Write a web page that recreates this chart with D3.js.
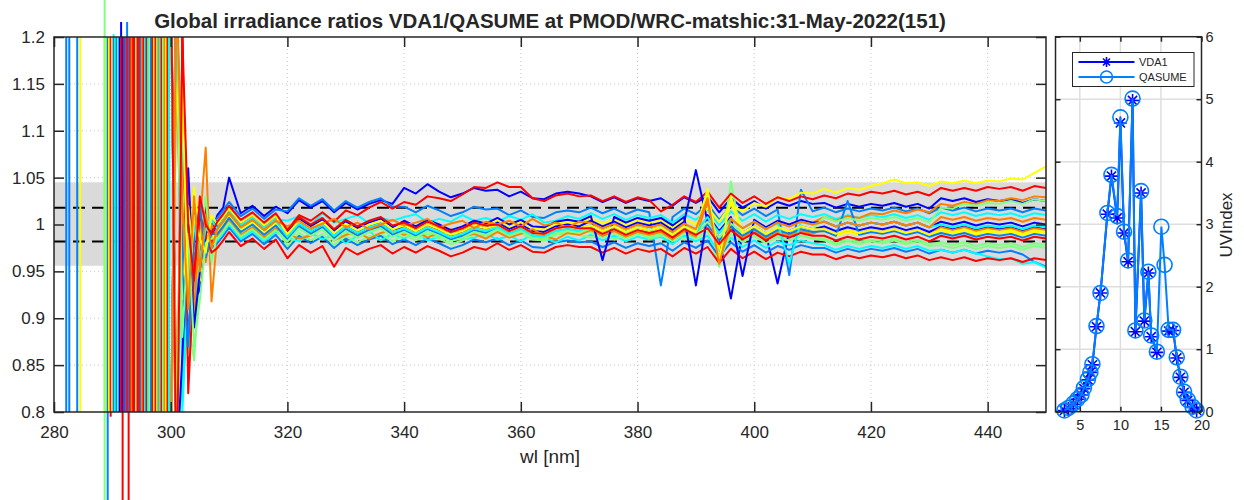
<!DOCTYPE html>
<html>
<head>
<meta charset="utf-8">
<script src="https://cdn.jsdelivr.net/npm/d3@7"></script>
<style>
  body { margin: 0; background: #ffffff; }
  svg text { font-family: "Liberation Sans", Arial, Helvetica, sans-serif; fill: #262626; }
</style>
</head>
<body>
<svg id="chart" width="1244" height="500"></svg>
<script>
// ---------------- data ----------------
const titleText = "Global irradiance ratios VDA1/QASUME at PMOD/WRC-matshic:31-May-2022(151)";

// wavelength grid [nm]
const wavelengths = [300,301,302,303,304,305,306,307,308,309,310,312,314,316,318,320,322,324,326,328,330,332,334,336,338,340,342,344,346,348,350,352,354,356,358,360,362,364,366,368,370,372,374,376,378,380,382,384,386,388,390,392,394,396,398,400,402,404,406,408,410,412,414,416,418,420,422,424,426,428,430,432,434,436,438,440,442,444,446,448,450];

// jet(7) line colours, cycled through the scans
const lineColors = ["#0000ff", "#0080ff", "#00ffff", "#80ff80", "#ffff00", "#ff8000", "#ff0000"];

// irradiance ratio VDA1/QASUME, one array per scan (same order as the UV-index time series)
const ratioSeries = [
  [1.30,0.72,1.10,0.93,1.02,0.97,1.01,0.99, 1.010,1.018,1.050, 1.012,1.020,1.009,1.019, 1.012,1.026,1.018,1.025,1.013,1.023,1.016,1.022,1.026,1.022, 1.039,1.033,1.043,1.035,1.029,1.033,1.039,1.036, 1.037,1.030,1.035,1.028,1.027,1.033,1.035,1.033, 1.030,1.024,1.029,1.023,1.028,1.025,1.028,1.020,1.029,1.023, 1.030,1.013,1.028,1.018,1.025,1.017,1.024,1.020,1.025,1.022, 1.023,1.018,1.022,1.019,1.022,1.020,1.023,1.019,1.022,1.017, 1.028,1.025,1.028,1.024,1.027,1.025,1.027,1.023,1.027,1.025],
  [0.75,1.25,0.877,1.04,0.95,1.02,0.98,1.00, 1.007,1.015,1.024, 1.009,1.017,1.006,1.016, 1.014,1.028,1.020,1.027,1.015,1.025,1.018,1.024,1.028,1.019, 1.019,1.013,1.020,1.015,1.009,1.013,1.019,1.016, 1.017,1.010,1.015,1.008,1.007,1.013,1.015,1.013, 1.018,1.012,1.017,1.011,1.016,1.013,0.935,1.008,1.017,1.011, 1.022,1.005,1.020,1.010,1.017,1.009,1.016,0.946,1.037,1.014, 1.018,1.013,1.017,1.014,1.017,1.015,1.018,1.014,1.017,1.012, 1.018,1.015,1.018,1.014,1.017,1.015,1.017,1.013,1.017,1.015],
  [1.28,0.78,0.827,0.98,1.03,0.96,1.00,0.985, 0.997,1.005,1.014, 0.999,1.007,0.996,1.006, 1.004,1.009,0.999,1.012,1.002,1.006,1.010,1.001,1.007,1.004, 1.008,1.011,1.002,1.006,1.003,1.010,1.004,1.007, 1.003,1.009,1.005,1.011,1.002,1.004,1.009,1.006, 1.012,1.006,1.011,1.005,1.010,1.007,1.010,1.002,1.011,1.005, 1.016,0.999,1.014,1.004,1.011,1.003,1.010,1.006,1.011,1.008, 1.011,1.006,1.010,1.007,1.010,1.008,1.011,1.007,1.010,1.005, 1.013,1.010,1.013,1.009,1.012,1.010,1.012,1.008,1.012,1.010],
  [0.74,1.22,0.94,0.90,0.855,0.95,0.975,0.99, 0.987,0.995,1.004, 0.989,0.997,0.986,0.996, 0.982,0.996,0.988,0.995,0.983,0.993,0.986,0.992,0.996,0.987, 0.996,0.990,0.997,0.992,0.986,0.990,0.996,0.993, 0.997,0.990,0.995,0.988,0.987,0.993,0.995,0.993, 0.992,0.986,0.991,0.985,0.990,0.987,0.990,0.982,0.991,0.985, 0.993,0.955,1.046,0.981,0.988,0.980,0.987,0.983,0.988,0.985, 0.985,0.980,0.984,0.981,0.984,0.982,0.985,0.981,0.984,0.979, 0.981,0.978,0.981,0.977,0.980,0.978,0.980,0.976,0.980,0.978],
  [1.30,0.70,1.16,0.96,1.04,0.99,1.01,0.975, 0.993,1.001,1.010, 0.995,1.003,0.992,1.002, 0.987,1.001,0.993,1.000,0.988,0.998,0.991,0.997,1.001,0.992, 1.001,0.995,1.002,0.997,0.991,0.995,1.001,0.998, 1.005,0.998,1.003,0.996,0.995,1.001,1.003,1.001, 1.007,1.001,1.006,1.000,1.005,1.002,1.005,0.997,1.006,1.000, 1.018,1.003,1.021,1.014,1.023,1.019,1.029,1.027,1.034,1.033, 1.038,1.034,1.039,1.037,1.041,1.044,1.048,1.044,1.045,1.041, 1.046,1.044,1.047,1.044,1.047,1.046,1.049,1.048,1.055,1.062],
  [0.72,1.165,0.90,1.05,0.93,1.00,1.082,0.918, 0.990,0.998,1.007, 0.992,1.000,0.989,0.999, 0.984,0.998,0.990,0.997,0.985,0.995,0.988,0.994,0.998,0.989, 0.998,0.992,0.999,0.994,0.988,0.992,0.998,0.995, 1.000,0.993,0.998,0.991,0.990,0.996,0.998,0.996, 0.999,0.993,0.998,0.992,0.997,0.994,0.997,0.989,0.998,0.992, 1.008,0.991,1.006,0.996,1.003,0.995,1.002,0.998,1.003,1.002, 1.008,1.004,1.009,1.007,1.012,1.011,1.015,1.012,1.016,1.013, 1.022,1.020,1.024,1.022,1.026,1.025,1.028,1.026,1.030,1.029],
  [1.30,0.75,1.20,0.85,1.00,0.97,1.02,0.98, 0.995,1.003,1.012, 0.997,1.005,0.994,1.004, 0.994,1.010,1.004,1.013,1.003,1.015,1.010,1.018,1.024,1.017, 1.024,1.021,1.030,1.028,1.025,1.032,1.040,1.039, 1.045,1.040,1.040,1.028,1.025,1.031,1.033,1.030, 1.031,1.025,1.030,1.024,1.029,1.026,1.014,1.021,1.030,1.024, 1.035,1.018,1.033,1.023,1.030,1.022,1.029,1.025,1.030,1.027, 1.031,1.028,1.033,1.031,1.035,1.033,1.036,1.032,1.035,1.031, 1.039,1.036,1.039,1.036,1.040,1.038,1.040,1.036,1.041,1.039],
  [0.76,1.28,0.90,1.06,0.92,0.93,0.99,1.00, 0.985,0.993,1.002, 0.987,0.995,0.984,0.994, 0.987,1.001,0.993,1.000,0.988,0.998,0.991,0.997,1.001,0.992, 0.999,0.993,1.000,0.995,0.989,0.993,0.999,0.996, 1.002,0.995,1.000,0.993,0.992,0.998,1.000,0.998, 1.004,0.998,1.003,0.997,1.002,0.999,1.002,0.994,1.003,1.058, 1.003,0.986,0.921,0.991,0.998,0.990,0.937,0.993,0.998,0.995, 0.998,0.993,0.997,0.994,0.997,0.995,0.998,0.994,0.997,0.992, 0.998,0.995,0.998,0.994,0.997,0.995,0.997,0.993,0.997,0.995],
  [1.25,0.80,1.00,0.88,0.97,0.955,0.97,0.975, 0.980,0.988,0.997, 0.982,0.990,0.979,0.989, 0.974,0.988,0.980,0.987,0.975,0.985,0.978,0.984,0.988,0.979, 0.984,0.978,0.985,0.980,0.974,0.978,0.984,0.981, 0.985,0.978,0.983,0.976,0.975,0.981,0.983,0.981, 0.982,0.976,0.981,0.975,0.980,0.977,0.980,0.972,0.981,0.975, 0.983,0.966,0.981,0.971,0.978,0.970,0.977,0.973,0.978,0.975, 0.975,0.970,0.974,0.971,0.974,0.972,0.975,0.971,0.974,0.969, 0.973,0.970,0.973,0.969,0.972,0.970,0.972,0.968,0.960,0.955],
  [0.72,1.24,0.80,0.93,0.90,0.96,0.98,0.99, 0.983,0.991,1.000, 0.985,0.993,0.982,0.992, 0.986,0.982,0.991,0.984,0.989,0.980,0.988,0.993,0.983,0.990, 0.985,0.991,0.983,0.987,0.992,0.984,0.986,0.990, 0.984,0.988,0.982,0.990,0.985,0.981,0.987,0.983, 0.989,0.983,0.988,0.982,0.987,0.984,0.987,0.979,0.988,0.982, 0.988,0.971,0.986,0.976,0.983,0.975,0.982,0.978,0.983,0.980, 0.978,0.973,0.977,0.974,0.977,0.975,0.978,0.974,0.977,0.972, 0.973,0.970,0.973,0.969,0.966,0.963,0.964,0.958,0.960,0.954],
  [1.27,0.73,1.05,0.86,0.93,0.98,1.03,0.96, 0.990,0.998,1.007, 0.992,1.000,0.989,0.999, 0.977,0.991,0.983,0.990,0.978,0.988,0.981,0.987,0.991,0.982, 0.989,0.983,0.990,0.985,0.979,0.983,0.989,0.986, 0.993,0.986,0.991,0.984,0.983,0.989,0.991,0.989, 0.986,0.991,0.984,0.989,0.993,0.985,0.988,0.992,0.984,0.990, 1.035,0.962,0.991,0.981,0.988,0.980,0.987,0.983,0.988,0.985, 0.983,0.978,0.982,0.979,0.982,0.980,0.983,0.979,0.982,0.977, 0.978,0.975,0.978,0.974,0.977,0.975,0.977,0.973,0.977,0.975],
  [0.78,1.20,0.92,1.02,0.96,0.94,1.00,0.985, 0.992,1.000,1.009, 0.994,1.002,0.991,1.001, 0.984,0.998,0.990,0.997,0.985,0.995,0.988,0.994,0.998,0.989, 0.996,0.990,0.997,0.992,0.986,0.990,0.996,0.993, 0.997,0.990,0.995,0.988,0.987,0.993,0.995,0.993, 0.998,0.992,0.997,0.991,0.996,0.993,0.996,0.988,0.997,0.991, 1.030,0.975,1.025,0.988,0.995,0.987,0.994,0.990,0.995,0.992, 0.993,0.988,0.992,0.989,0.992,0.990,0.993,0.989,0.992,0.987, 0.993,0.990,0.993,0.989,0.992,0.990,0.992,0.988,0.992,0.990],
  [1.26,0.79,1.08,0.96,0.90,1.01,0.96,1.00, 0.987,0.995,1.004, 0.989,0.997,0.986,0.996, 0.990,0.985,0.988,0.996,0.983,0.989,0.992,0.985,0.991,0.994, 0.989,0.993,0.986,0.991,0.995,0.987,0.990,0.985, 0.992,0.986,0.990,0.995,0.988,0.984,0.991,0.989, 0.994,0.988,0.993,0.987,0.992,0.989,0.992,0.984,0.993,0.987, 1.025,0.965,0.996,0.986,0.993,0.985,0.992,0.988,0.993,0.990, 0.995,0.990,0.994,0.991,0.994,0.992,0.995,0.991,0.994,0.989, 0.997,0.994,0.997,0.993,0.996,0.994,0.996,0.992,0.996,0.994],
  [0.70,1.30,1.20,0.82,0.95,1.01,0.99,0.97, 0.975,0.983,0.992, 0.977,0.985,0.974,0.984, 0.964,0.978,0.970,0.977,0.955,0.975,0.968,0.974,0.978,0.969, 0.976,0.970,0.977,0.972,0.966,0.970,0.976,0.973, 0.980,0.973,0.978,0.971,0.970,0.976,0.978,0.976, 0.976,0.970,0.975,0.969,0.974,0.971,0.974,0.966,0.975,0.969, 0.976,0.959,0.974,0.964,0.971,0.963,0.970,0.966,0.971,0.968, 0.968,0.963,0.967,0.964,0.967,0.965,0.968,0.964,0.967,0.962, 0.965,0.962,0.965,0.961,0.964,0.962,0.964,0.960,0.964,0.962],
  [1.29,0.74,0.86,1.00,0.89,0.95,1.00,0.99, 1.000,1.008,1.017, 1.002,1.010,0.999,1.009, 0.992,1.006,0.998,1.005,0.993,1.003,0.996,1.002,1.006,0.997, 1.004,0.998,1.005,1.000,0.994,0.998,1.004,1.001, 1.007,1.000,1.005,0.998,0.997,1.003,1.005,1.003, 1.009,0.962,1.008,1.002,1.007,1.004,1.007,0.999,1.008,0.935, 1.010,0.993,1.008,0.945,1.005,0.997,1.004,1.000,1.005,1.002, 1.003,0.998,1.002,0.999,1.002,1.000,1.003,0.999,1.002,0.997, 1.003,1.000,1.003,0.999,1.002,1.000,1.002,0.998,1.002,1.000],
  [0.73,1.27,0.95,0.87,0.98,1.02,0.965,0.99, 0.990,0.998,1.007, 0.992,1.000,0.989,0.999, 0.984,0.998,0.990,0.997,0.985,0.995,0.988,0.994,0.998,0.989, 0.994,0.988,0.995,0.990,0.984,0.988,0.994,0.991, 0.997,0.990,0.995,0.988,0.987,0.993,0.995,0.993, 0.999,0.993,0.998,0.992,0.997,0.994,0.997,0.989,0.998,0.992, 1.000,0.983,0.998,0.988,0.995,0.987,0.994,0.990,0.995,0.992, 0.993,0.988,1.025,0.989,0.992,0.990,0.993,0.989,0.992,0.987, 0.991,0.988,0.991,0.987,0.990,0.988,0.990,0.986,0.990,0.988],
  [1.24,0.76,1.12,0.94,1.00,0.965,0.995,1.005, 0.995,1.003,1.012, 0.997,1.005,0.994,1.004, 0.987,1.001,0.993,1.000,0.988,0.998,0.991,0.997,1.001,0.992, 0.996,0.990,0.997,0.992,0.986,0.990,0.996,0.993, 0.997,0.990,0.995,0.988,0.987,0.993,0.995,0.993, 0.999,0.993,0.998,0.992,0.997,0.994,0.997,0.989,0.998,0.992, 1.008,0.991,1.006,0.996,1.003,0.995,1.002,0.958,1.003,1.000, 1.003,0.998,1.002,0.999,1.002,1.000,1.003,0.999,1.002,0.997, 1.000,0.997,1.000,0.996,0.999,0.997,0.999,0.995,0.999,0.997],
  [0.71,1.29,0.88,0.99,0.87,0.92,0.98,0.985, 0.985,0.993,1.002, 0.987,0.995,0.984,0.994, 0.982,0.996,0.988,0.995,0.983,0.993,0.986,0.992,0.996,0.987, 0.992,0.986,0.993,0.988,0.982,0.986,0.992,0.989, 0.995,0.988,0.993,0.986,0.985,0.991,0.993,0.991, 0.996,0.990,0.995,0.989,0.994,0.991,0.994,0.986,0.995,0.989, 1.003,0.986,1.001,0.991,0.998,0.990,0.997,0.993,0.998,0.995, 1.008,1.003,1.007,1.004,1.007,1.005,1.008,1.004,1.007,1.002, 1.018,1.017,1.022,1.020,1.023,1.022,1.025,1.022,1.027,1.025],
  [1.27,0.77,1.15,0.92,1.01,0.985,0.97,1.01, 1.000,1.008,1.017, 1.002,1.010,0.999,1.009, 0.990,1.004,0.996,1.003,0.991,1.001,0.994,1.000,1.004,0.995, 0.999,0.993,1.000,0.995,0.989,0.993,0.999,0.996, 1.000,0.993,0.998,0.991,0.990,0.996,0.998,0.996, 0.999,0.993,0.998,0.992,0.997,0.994,0.997,0.989,0.998,0.992, 1.038,0.962,1.030,0.991,0.998,0.990,0.997,0.993,0.998,0.995, 0.995,0.990,0.994,0.991,0.994,0.992,0.995,0.991,0.994,0.989, 0.995,0.992,0.995,0.991,0.994,0.992,0.994,0.990,0.994,0.992],
  [0.74,1.26,1.02,0.91,1.03,0.95,1.01,0.975, 0.995,1.003,1.012, 0.997,1.005,0.994,1.004, 0.998,1.004,0.996,1.001,1.006,0.997,1.002,0.995,1.000,1.005, 0.999,1.002,1.006,0.997,1.001,1.004,0.996,1.003, 1.000,1.004,0.998,1.006,0.999,1.002,0.997,1.003, 1.002,0.996,1.001,0.995,1.000,0.997,1.000,0.992,1.001,0.995, 1.028,0.958,1.006,0.996,1.003,0.995,1.002,0.998,1.003,1.000, 1.003,0.998,1.002,0.999,1.002,1.000,1.003,0.999,1.002,0.997, 1.008,1.005,1.008,1.004,1.007,1.005,1.007,1.003,1.007,1.005],
  [1.30,0.70,1.20,1.00,0.94,1.03,1.00,0.99, 1.003,1.011,1.020, 1.005,1.013,1.002,1.012, 0.994,1.008,1.000,1.007,0.995,1.005,0.998,1.004,1.008,0.999, 1.002,0.996,1.003,0.998,0.992,0.996,1.002,0.999, 1.000,0.993,0.998,0.991,0.990,0.996,0.998,0.996, 0.996,0.990,0.995,0.989,0.994,0.991,0.994,0.986,0.995,0.989, 0.996,0.979,0.994,0.984,0.991,0.983,0.990,0.986,0.991,0.988, 0.988,0.983,0.987,0.984,0.987,0.985,0.988,0.984,0.987,0.982, 0.988,0.985,0.988,0.984,0.987,0.985,0.987,0.983,0.987,0.985]
];

// noise-dominated short-wave part: wavelength [nm] and colour index of each full-range crossing
const shortwaveCrossings = [
  [282.10,1],[282.62,1],[283.98,1],[284.50,4],
  [288.68,3],[288.94,4],[289.20,1],[289.45,4],[289.71,6],[289.97,4],[290.22,1],[290.48,2],
  [290.74,1],[290.99,3],[291.25,0],[291.50,6],[291.76,0],[292.02,6],[292.27,1],[292.53,6],
  [292.79,1],[293.04,6],[293.30,5],[293.56,6],[293.81,6],[294.07,3],[294.32,6],[294.58,6],
  [294.84,1],[295.09,5],[295.35,6],[295.61,2],[295.86,6],[296.12,2],[296.38,3],[296.63,1],
  [296.89,6],[297.15,4],[297.40,6],[297.66,3],[297.91,5],[298.17,2],[298.43,6],[298.68,3],
  [298.94,5],[299.19,4],[299.45,6],[299.71,2]
];

// crossings whose strokes run past the axes: wavelength, colour index, lower and upper ratio
const offAxisSegments = [
  [288.68,3,0.70,1.25],
  [289.20,1,0.70,0.80],
  [289.71,6,0.795,0.80],
  [290.22,2,1.20,1.203],
  [291.50,0,1.20,1.216],
  [291.76,6,0.70,0.80],
  [292.53,1,1.20,1.216],
  [292.79,6,0.70,0.80]
];

const bandLimits = [0.956, 1.045];
const dashedLevels = [1.018, 0.982];
const xTicks = [280, 300, 320, 340, 360, 380, 400, 420, 440];
const yTicks = [0.8, 0.85, 0.9, 0.95, 1.0, 1.05, 1.1, 1.15, 1.2];

// UV index time series (hour of day)
const uvHours   = [3.1, 3.6, 4.2, 4.7, 5.2, 5.5, 6.0, 6.3, 6.55, 7.05, 7.55, 8.4, 8.9, 9.6, 10.0, 10.45, 10.95, 11.5, 11.85, 12.55, 12.95, 13.45, 13.8, 14.5, 15.05, 15.45, 15.95, 16.5, 16.95, 17.4, 17.85, 18.3, 18.9, 19.4];
const uvVDA1    = [0.02, 0.05, 0.12, 0.20, 0.27, 0.37, 0.51, 0.63, 0.75, 1.36, 1.90, 3.16, 3.77, 3.10, 4.62, 2.86, 2.40, 4.98, 1.28, 3.50, 1.45, 2.22, 1.20, 0.95, null, null, 1.29, 1.30, 0.86, 0.55, 0.31, 0.18, 0.07, 0.02];
const uvQASUME  = [0.02, 0.06, 0.13, 0.20, 0.27, 0.38, 0.52, 0.63, 0.76, 1.37, 1.90, 3.18, 3.79, 3.13, 4.71, 2.88, 2.42, 5.01, 1.30, 3.53, 1.46, 2.24, 1.22, 0.96, 2.96, 2.35, 1.31, 1.31, 0.87, 0.56, 0.32, 0.19, 0.08, 0.02];
const uvXTicks = [5, 10, 15, 20];
const uvYTicks = [0, 1, 2, 3, 4, 5, 6];
const legendLabels = ["VDA1", "QASUME"];

// ---------------- drawing ----------------
const svg = d3.select("#chart");
const axisColor = "#262626";

// main panel
const M = { left: 54, right: 1046, top: 37, bottom: 412 };
const x = d3.scaleLinear().domain([280, 450]).range([M.left, M.right]);
const y = d3.scaleLinear().domain([0.8, 1.2]).range([M.bottom, M.top]);

svg.append("defs").append("clipPath").attr("id", "mainClip")
  .append("rect").attr("x", M.left).attr("y", M.top)
  .attr("width", M.right - M.left).attr("height", M.bottom - M.top);

// dotted grid
const grid = svg.append("g").attr("stroke", "#c8c8c8").attr("stroke-width", 1).attr("stroke-dasharray", "1,3");
grid.selectAll("line.gx").data(xTicks.slice(1)).join("line")
  .attr("x1", d => x(d)).attr("x2", d => x(d)).attr("y1", M.top).attr("y2", M.bottom);
grid.selectAll("line.gy").data(yTicks.slice(1, -1)).join("line")
  .attr("x1", M.left).attr("x2", M.right).attr("y1", d => y(d)).attr("y2", d => y(d));

// tolerance band and limits
svg.append("rect")
  .attr("x", M.left).attr("width", M.right - M.left)
  .attr("y", y(bandLimits[1])).attr("height", y(bandLimits[0]) - y(bandLimits[1]))
  .attr("fill", "#dadada");
svg.append("g").selectAll("line").data(dashedLevels).join("line")
  .attr("x1", M.left).attr("x2", M.right)
  .attr("y1", d => y(d)).attr("y2", d => y(d))
  .attr("stroke", "#000").attr("stroke-width", 2).attr("stroke-dasharray", "12,7");

// short-wave crossings (clipped) and series
const plot = svg.append("g").attr("clip-path", "url(#mainClip)");
plot.selectAll("line.sw").data(shortwaveCrossings).join("line")
  .attr("x1", d => x(d[0])).attr("x2", d => x(d[0]))
  .attr("y1", y(1.3)).attr("y2", y(0.7))
  .attr("stroke", d => lineColors[d[1]]).attr("stroke-width", 2);

const ratioLine = d3.line().x((d, i) => x(wavelengths[i])).y(d => y(d));
plot.selectAll("path.ratio").data(ratioSeries).join("path")
  .attr("d", ratioLine)
  .attr("fill", "none")
  .attr("stroke", (d, i) => lineColors[i % lineColors.length])
  .attr("stroke-width", 2)
  .attr("stroke-linejoin", "round");

svg.append("g").selectAll("line").data(offAxisSegments).join("line")
  .attr("x1", d => x(d[0])).attr("x2", d => x(d[0]))
  .attr("y1", d => y(d[2])).attr("y2", d => y(d[3]))
  .attr("stroke", d => lineColors[d[1]]).attr("stroke-width", 2);

// main axes
function styleAxis(g, fontSize) {
  g.select(".domain").remove();
  g.selectAll(".tick line").attr("stroke", axisColor).attr("stroke-width", 1.5);
  g.selectAll(".tick text").attr("fill", axisColor).style("font-size", fontSize + "px");
}
const fmtY = d => String(+d.toFixed(2));
svg.append("g").attr("transform", `translate(0,${M.bottom})`)
  .call(d3.axisBottom(x).tickValues(xTicks).tickSize(-10).tickPadding(14).tickFormat(d3.format("d")))
  .call(g => styleAxis(g, 17));
svg.append("g").attr("transform", `translate(0,${M.top})`)
  .call(d3.axisTop(x).tickValues(xTicks).tickSize(-10).tickFormat(""))
  .call(g => styleAxis(g, 17));
svg.append("g").attr("transform", `translate(${M.left},0)`)
  .call(d3.axisLeft(y).tickValues(yTicks).tickSize(-10).tickPadding(9).tickFormat(fmtY))
  .call(g => styleAxis(g, 17));
svg.append("g").attr("transform", `translate(${M.right},0)`)
  .call(d3.axisRight(y).tickValues(yTicks).tickSize(-10).tickFormat(""))
  .call(g => styleAxis(g, 17));
svg.append("rect")
  .attr("x", M.left).attr("y", M.top).attr("width", M.right - M.left).attr("height", M.bottom - M.top)
  .attr("fill", "none").attr("stroke", axisColor).attr("stroke-width", 1.5);

svg.append("text").attr("x", (M.left + M.right) / 2).attr("y", 28)
  .attr("text-anchor", "middle").style("font-size", "20.5px").style("font-weight", "bold")
  .attr("fill", "#000").text(titleText);
svg.append("text").attr("x", (M.left + M.right) / 2).attr("y", 463)
  .attr("text-anchor", "middle").style("font-size", "19px").text("wl [nm]");

// UV index panel
const U = { left: 1055.5, right: 1201.5, top: 36.7, bottom: 411.7 };
const ux = d3.scaleLinear().domain([2, 20]).range([U.left, U.right]);
const uy = d3.scaleLinear().domain([0, 6]).range([U.bottom, U.top]);

const ugrid = svg.append("g").attr("stroke", "#dedede").attr("stroke-width", 1.5);
ugrid.selectAll("line.vx").data(uvXTicks.filter(d => ux(d) < U.right - 2)).join("line")
  .attr("x1", d => ux(d)).attr("x2", d => ux(d)).attr("y1", U.top).attr("y2", U.bottom);
ugrid.selectAll("line.hy").data(uvYTicks.slice(1, -1)).join("line")
  .attr("x1", U.left).attr("x2", U.right).attr("y1", d => uy(d)).attr("y2", d => uy(d));

const uvLine = d3.line().defined(d => d[1] != null).x(d => ux(d[0])).y(d => uy(d[1]));
const vdaPts = uvHours.map((h, i) => [h, uvVDA1[i]]);
const qasPts = uvHours.map((h, i) => [h, uvQASUME[i]]);
const star = "M-6.5,0H6.5M0,-6.5V6.5M-4.6,-4.6L4.6,4.6M-4.6,4.6L4.6,-4.6";

svg.append("path").datum(vdaPts).attr("d", uvLine)
  .attr("fill", "none").attr("stroke", "#0000ff").attr("stroke-width", 2);
svg.append("g").selectAll("path").data(vdaPts.filter(d => d[1] != null)).join("path")
  .attr("transform", d => `translate(${ux(d[0])},${uy(d[1])})`)
  .attr("d", star).attr("stroke", "#0000ff").attr("stroke-width", 1.6).attr("fill", "none");
svg.append("path").datum(qasPts).attr("d", uvLine)
  .attr("fill", "none").attr("stroke", "#0080ff").attr("stroke-width", 2);
svg.append("g").selectAll("circle").data(qasPts).join("circle")
  .attr("cx", d => ux(d[0])).attr("cy", d => uy(d[1])).attr("r", 7.5)
  .attr("fill", "none").attr("stroke", "#0080ff").attr("stroke-width", 1.6);

svg.append("g").attr("transform", `translate(0,${U.bottom})`)
  .call(d3.axisBottom(ux).tickValues(uvXTicks).tickSize(-5).tickPadding(8).tickFormat(d3.format("d")))
  .call(g => styleAxis(g, 14.5));
svg.append("g").attr("transform", `translate(0,${U.top})`)
  .call(d3.axisTop(ux).tickValues(uvXTicks).tickSize(-5).tickFormat(""))
  .call(g => styleAxis(g, 14.5));
svg.append("g").attr("transform", `translate(${U.right},0)`)
  .call(d3.axisRight(uy).tickValues(uvYTicks).tickSize(-5).tickPadding(4).tickFormat(d3.format("d")))
  .call(g => styleAxis(g, 14.5));
svg.append("g").attr("transform", `translate(${U.left},0)`)
  .call(d3.axisLeft(uy).tickValues(uvYTicks).tickSize(-5).tickFormat(""))
  .call(g => styleAxis(g, 14.5));
svg.append("rect")
  .attr("x", U.left).attr("y", U.top).attr("width", U.right - U.left).attr("height", U.bottom - U.top)
  .attr("fill", "none").attr("stroke", axisColor).attr("stroke-width", 1.5);

svg.append("text").attr("transform", "translate(1232,225) rotate(-90)")
  .attr("text-anchor", "middle").style("font-size", "17px").text("UVIndex");

// legend
const lg = svg.append("g").attr("transform", "translate(1072.5,52.5)");
lg.append("rect").attr("width", 121.5).attr("height", 34)
  .attr("fill", "#fff").attr("stroke", axisColor).attr("stroke-width", 1);
const legendRows = [
  { label: legendLabels[0], color: "#0000ff", marker: "star", yy: 9.5 },
  { label: legendLabels[1], color: "#0080ff", marker: "circle", yy: 24.5 }
];
legendRows.forEach(r => {
  lg.append("line").attr("x1", 6).attr("x2", 62).attr("y1", r.yy).attr("y2", r.yy)
    .attr("stroke", r.color).attr("stroke-width", 2);
  if (r.marker === "star") {
    lg.append("path").attr("transform", `translate(34,${r.yy})`)
      .attr("d", "M-5,0H5M0,-5V5M-3.5,-3.5L3.5,3.5M-3.5,3.5L3.5,-3.5")
      .attr("stroke", r.color).attr("stroke-width", 1.6).attr("fill", "none");
  } else {
    lg.append("circle").attr("cx", 34).attr("cy", r.yy).attr("r", 6)
      .attr("fill", "none").attr("stroke", r.color).attr("stroke-width", 1.6);
  }
  lg.append("text").attr("x", 66.5).attr("y", r.yy + 4).style("font-size", "11px")
    .attr("fill", "#000").text(r.label);
});
</script>
</body>
</html>
